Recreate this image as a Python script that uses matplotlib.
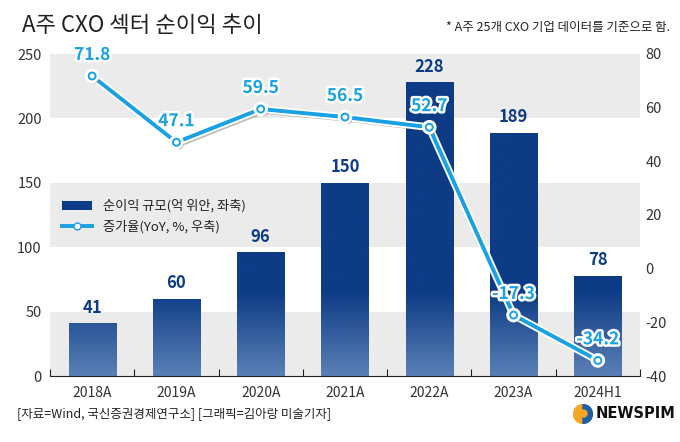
import numpy as np
import matplotlib

matplotlib.use("Agg")

import matplotlib.pyplot as plt
import matplotlib.patheffects as pe
from matplotlib.colors import LinearSegmentedColormap
from matplotlib.lines import Line2D
from matplotlib.patches import Patch, Circle, Wedge

plt.rcParams["font.family"] = ["Noto Sans CJK KR", "DejaVu Sans"]
plt.rcParams["axes.unicode_minus"] = False

NAVY = "#0D3B85"
NAVY_LIGHT = "#5A80B6"
LINE_BLUE = "#19A1E3"
TEXT_COLOR = "#222222"
BAND_GRAY = "#EBEBEB"

categories = ["2018A", "2019A", "2020A", "2021A", "2022A", "2023A", "2024H1"]
profit = [41, 60, 96, 150, 228, 189, 78]
growth = [71.8, 47.1, 59.5, 56.5, 52.7, -17.3, -34.2]

fig = plt.figure(figsize=(6.8, 4.42), dpi=100)
ax = fig.add_axes([50 / 680, 1 - 376 / 442, 590 / 680, 322 / 442])
x = np.arange(len(categories))

# alternating background bands
for lo in (0, 100, 200):
    ax.axhspan(lo, lo + 50, color=BAND_GRAY, lw=0, zorder=0)

# bars with a gradient toward the bottom
cmap = LinearSegmentedColormap.from_list("bar", [NAVY_LIGHT, NAVY])
grad = np.linspace(0, 1, 256).reshape(-1, 1)
grad = np.clip(grad * 250 / 65, 0, 1)
bars = ax.bar(x, profit, width=0.56, color=NAVY, zorder=2)
for bar in bars:
    img = ax.imshow(grad, cmap=cmap, origin="lower", aspect="auto",
                    extent=[bar.get_x(), bar.get_x() + bar.get_width(), 0, 250],
                    zorder=2.1)
    img.set_clip_path(bar)
for xi, v in zip(x, profit):
    ax.text(xi, v + 5, f"{v}", ha="center", va="bottom", fontsize=12,
            fontweight="bold", color=NAVY, zorder=3)

ax.set_xlim(-0.5, len(categories) - 0.5)
ax.set_ylim(0, 250)
ax.set_yticks([0, 50, 100, 150, 200, 250])
ax.set_xticks(np.arange(-0.5, len(categories)), minor=False)
ax.set_xticklabels([])
ax.set_xticks(x, minor=True)
ax.set_xticklabels(categories, minor=True)
ax.tick_params(axis="x", which="major", direction="in", length=5, color="#222222")
ax.tick_params(axis="x", which="minor", length=0, pad=7, labelsize=10, labelcolor="#333333")
ax.tick_params(axis="y", length=0, pad=6, labelsize=10.5, labelcolor="#333333")
for side in ("left", "right", "top"):
    ax.spines[side].set_visible(False)
ax.spines["bottom"].set_color("#222222")

# growth line on right axis
ax2 = ax.twinx()
ax2.set_ylim(-40, 80)
ax2.set_yticks([-40, -20, 0, 20, 40, 60, 80])
ax2.tick_params(axis="y", length=0, pad=4, labelsize=10.5, labelcolor="#333333")
for side in ("left", "right", "top", "bottom"):
    ax2.spines[side].set_visible(False)
ax2.plot(x, growth, color=LINE_BLUE, lw=2.8, marker="o", ms=5,
         markerfacecolor="white", markeredgecolor=LINE_BLUE, markeredgewidth=1.4,
         zorder=4,
         path_effects=[pe.SimpleLineShadow(offset=(2, -2), shadow_color="#444444", alpha=0.35),
                       pe.Stroke(linewidth=5.5, foreground="white"), pe.Normal()])
for xi, v in zip(x, growth):
    ax2.text(xi, v + 4.5, f"{v}", ha="center", va="bottom", fontsize=12.5,
             fontweight="bold", color=LINE_BLUE, zorder=5,
             path_effects=[pe.withStroke(linewidth=3.5, foreground="white")])

# legend
handles = [Patch(facecolor=NAVY, edgecolor="none"),
           Line2D([], [], color=LINE_BLUE, lw=2.8, marker="o", ms=5,
                  markerfacecolor="white", markeredgecolor=LINE_BLUE)]
ax.legend(handles, ["순이익 규모(억 위안, 좌축)", "증가율(YoY, %, 우축)"],
          loc="upper left", bbox_to_anchor=(0.0, 0.585), frameon=False,
          fontsize=9.5, handlelength=2.3, handleheight=0.6, labelspacing=0.55,
          labelcolor="#222222")

# title, note and footer
fig.text(22 / 680, 1 - 26 / 442, "A주 CXO 섹터 순이익 추이", fontsize=16,
         color=TEXT_COLOR, va="center", ha="left")
fig.text(670 / 680, 1 - 28 / 442, "* A주 25개 CXO 기업 데이터를 기준으로 함.", fontsize=9,
         color=TEXT_COLOR, va="center", ha="right")
fig.text(17 / 680, 1 - 414 / 442, "[자료=Wind, 국신증권경제연구소] [그래픽=김아랑 미술기자]",
         fontsize=9, color=TEXT_COLOR, va="center", ha="left")

# NEWSPIM logo
logo = fig.add_axes([573 / 680, 1 - 424 / 442, 20 / 680, 20 / 442])
logo.set_xlim(-1, 1)
logo.set_ylim(-1, 1)
logo.set_aspect("equal")
logo.axis("off")
logo.add_patch(Wedge((0, 0), 0.95, 90, 270, color="#F5A623"))
logo.add_patch(Wedge((0, 0), 0.95, -90, 90, color="#1F5FA8"))
logo.add_patch(Circle((0.05, 0.05), 0.35, color="#F5A623"))
fig.text(596 / 680, 1 - 414 / 442, "NEWSPIM", fontsize=10.5, fontweight="bold",
         color="#111111", va="center", ha="left", family="DejaVu Sans")

fig.savefig("out.png", dpi=100, facecolor="white")
